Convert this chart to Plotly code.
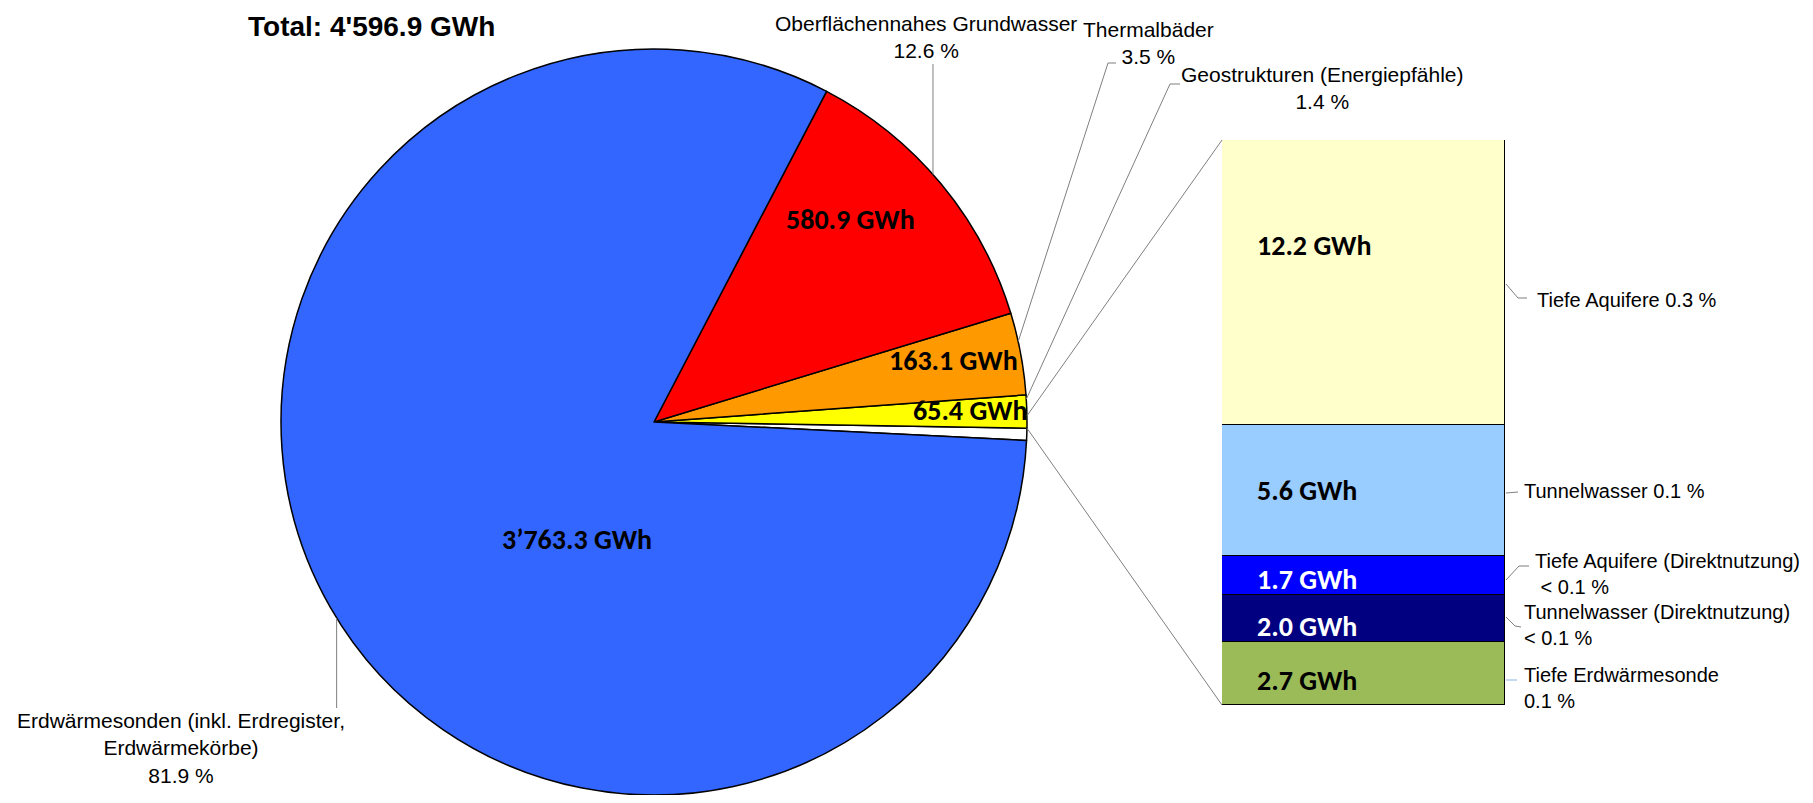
import math

import plotly.graph_objects as go

# pie: the "other" slice is expanded in the bar on the right
pie_labels = ["Übrige", "Geostrukturen (Energiepfähle)", "Thermalbäder",
              "Oberflächennahes Grundwasser", "Erdwärmesonden"]
pie_values = [24.2, 65.4, 163.1, 580.9, 3763.3]
pie_colors = ["#FFFFFF", "#FFFF00", "#FF9900", "#FF0000", "#3366FF"]
pie_texts = ["", "65.4 GWh", "163.1 GWh", "580.9 GWh", "3’763.3 GWh"]

# bar: stacked from bottom to top
bar_labels = ["Tiefe Erdwärmesonde", "Tunnelwasser (Direktnutzung)",
              "Tiefe Aquifere (Direktnutzung)", "Tunnelwasser", "Tiefe Aquifere"]
bar_values = [2.7, 2.0, 1.7, 5.6, 12.2]
bar_colors = ["#9BBB59", "#000080", "#0000FF", "#99CCFF", "#FFFFCC"]
bar_font_colors = ["black", "white", "white", "black", "black"]

# page size; the html body adds an 8px margin around the figure
W, H = 1813, 803
OFF = 8
FW, FH = W - 2 * OFF, H - 2 * OFF


def px(x):
    return (x - OFF) / FW


def py(y):
    return 1 - (y - OFF) / FH


# pie and bar geometry in page pixels
CX, CY, R = 654, 422, 373
BX0, BX1, BY0, BY1 = 1222, 1505, 140, 705

total = sum(pie_values)
half_other = pie_values[0] / total * 360 / 2

fig = go.Figure()
fig.add_trace(
    go.Pie(
        labels=pie_labels,
        values=pie_values,
        sort=False,
        direction="counterclockwise",
        rotation=90 + half_other,
        marker=dict(colors=pie_colors, line=dict(color="black", width=1.5)),
        textinfo="none",
        hoverinfo="label+value+percent",
        domain=dict(x=[px(CX - R), px(CX + R)], y=[max(py(CY + R), 0), py(CY - R)]),
        showlegend=False,
    )
)

for lab, val, col in zip(bar_labels, bar_values, bar_colors):
    fig.add_trace(
        go.Bar(
            x=["Übrige"],
            y=[val],
            name=lab,
            marker=dict(color=col, line=dict(color="black", width=1.5)),
            showlegend=False,
            hovertemplate=lab + ": %{y} GWh<extra></extra>",
        )
    )

fig.update_layout(
    width=FW,
    height=FH,
    barmode="stack",
    bargap=0,
    margin=dict(l=0, r=0, t=0, b=0),
    paper_bgcolor="white",
    plot_bgcolor="white",
    xaxis=dict(domain=[px(BX0), px(BX1)], range=[-0.5, 0.5], visible=False, fixedrange=True),
    yaxis=dict(domain=[py(BY1), py(BY0)], range=[0, sum(bar_values)], visible=False, fixedrange=True),
    font=dict(family="Liberation Sans, Arial, sans-serif", size=21, color="black"),
)

# mid angles of pie slices (degrees, counterclockwise from 3 o'clock)
mids = []
acc = -half_other
for v in pie_values:
    a = v / total * 360
    mids.append(acc + a / 2)
    acc += a


def edge(angle):
    t = math.radians(angle)
    return CX + R * math.cos(t), CY - R * math.sin(t)


def path(points):
    return "M " + " L ".join(f"{px(x)},{py(y)}" for x, y in points)


shapes = []
leader = dict(color="#7f7f7f", width=1)

# connectors from the "other" slice to the bar
for ang, corner in [(half_other, (BX0, BY0)), (-half_other, (BX0, BY1))]:
    shapes.append(dict(type="path", path=path([edge(ang), corner]), xref="paper", yref="paper", line=leader))

# pie leader lines
ex, ey = edge(mids[3])
shapes.append(dict(type="path", path=path([(ex, ey), (ex, 64)]), xref="paper", yref="paper", line=leader))
shapes.append(dict(type="path", path=path([edge(mids[2]), (1108, 63), (1116, 63)]), xref="paper", yref="paper", line=leader))
shapes.append(dict(type="path", path=path([edge(mids[1]), (1170, 84), (1180, 84)]), xref="paper", yref="paper", line=leader))
ex, ey = edge(mids[4])
shapes.append(dict(type="path", path=path([(ex, ey), (ex, 708)]), xref="paper", yref="paper", line=leader))

# bar leader lines
shapes.append(dict(type="path", path=path([(1506, 284), (1518, 298), (1527, 298)]), xref="paper", yref="paper", line=leader))
shapes.append(dict(type="path", path=path([(1506, 493), (1518, 492)]), xref="paper", yref="paper", line=leader))
shapes.append(dict(type="path", path=path([(1506, 580), (1519, 566), (1529, 566)]), xref="paper", yref="paper", line=leader))
shapes.append(dict(type="path", path=path([(1506, 617), (1515, 626), (1521, 627)]), xref="paper", yref="paper", line=leader))
shapes.append(dict(type="path", path=path([(1506, 680), (1517, 680)]), xref="paper", yref="paper",
                   line=dict(color="#8db3e2", width=1)))
fig.update_layout(shapes=shapes)

annotations = []


def note(text, x, y, xanchor="center", align="center", **font):
    annotations.append(dict(text=text, x=px(x), y=py(y), xref="paper", yref="paper",
                            xanchor=xanchor, yanchor="middle", align=align,
                            showarrow=False, font=font or None))


note("<b>Total: 4'596.9 GWh</b>", 246, 27, xanchor="left", size=28, color="black")

# outer pie labels
note("Oberflächennahes Grundwasser<br>12.6 %", 926, 37)
note("Thermalbäder<br>3.5 %", 1148, 43)
note("Geostrukturen (Energiepfähle)<br>1.4 %", 1322, 88)
note("Erdwärmesonden (inkl. Erdregister,<br>Erdwärmekörbe)<br>81.9 %", 181, 748)

# inner pie labels
bold = dict(family="Carlito, Lato, sans-serif", size=28, color="black")
for txt, (x, y) in zip(pie_texts[1:], [(970, 410), (953, 360), (850, 220), (577, 539)]):
    note(f"<b>{txt}</b>", x, y, **bold)

# bar segment labels
for val, fc, y in zip(bar_values, bar_font_colors, [680, 626, 579, 490, 245]):
    note(f"<b>{val:.1f} GWh</b>", 1255, y, xanchor="left",
         family="Carlito, Lato, sans-serif", size=28, color=fc)

# bar side labels
side = dict(size=20, color="black")
note("Tiefe Aquifere 0.3 %", 1535, 300, xanchor="left", align="left", **side)
note("Tunnelwasser 0.1 %", 1522, 491, xanchor="left", align="left", **side)
note("Tiefe Aquifere (Direktnutzung)<br> &lt; 0.1 %", 1533, 574, xanchor="left", align="left", **side)
note("Tunnelwasser (Direktnutzung)<br>&lt; 0.1 %", 1522, 625, xanchor="left", align="left", **side)
note("Tiefe Erdwärmesonde<br>0.1 %", 1522, 688, xanchor="left", align="left", **side)

fig.update_layout(annotations=annotations)

fig.write_html("out.html")
